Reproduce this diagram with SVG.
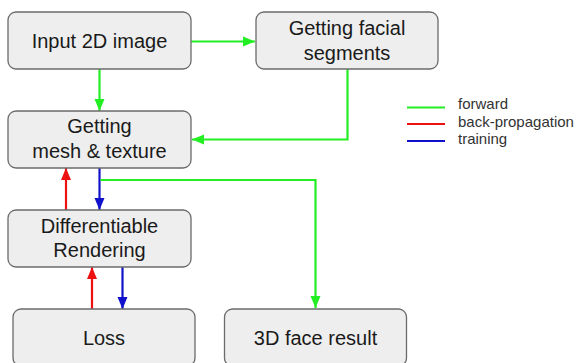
<svg xmlns="http://www.w3.org/2000/svg" width="580" height="363" viewBox="0 0 580 363">
<style>
.box{fill:#eeeeee;stroke:#6b6b6b;stroke-width:1.3}
.t{font-family:"Liberation Sans",Arial,sans-serif;font-size:20px;fill:#1a1a1a;text-anchor:middle}
.lg{font-family:"Liberation Sans",Arial,sans-serif;font-size:15px;fill:#333333}
.g{stroke:#22ee22;stroke-width:2.2;fill:none}
.r{stroke:#ee1111;stroke-width:2.2;fill:none}
.b{stroke:#1111cc;stroke-width:2.2;fill:none}
</style>
<defs>
<marker id="ag" markerUnits="userSpaceOnUse" markerWidth="12" markerHeight="12" viewBox="0 0 12 12" refX="12" refY="6" orient="auto"><path d="M0,1 L12,6 L0,11 Z" fill="#22ee22"/></marker>
<marker id="ar" markerUnits="userSpaceOnUse" markerWidth="12" markerHeight="12" viewBox="0 0 12 12" refX="12" refY="6" orient="auto"><path d="M0,1 L12,6 L0,11 Z" fill="#ee1111"/></marker>
<marker id="ab" markerUnits="userSpaceOnUse" markerWidth="12" markerHeight="12" viewBox="0 0 12 12" refX="12" refY="6" orient="auto"><path d="M0,1 L12,6 L0,11 Z" fill="#1111cc"/></marker>
</defs>
<rect width="580" height="363" fill="#ffffff"/>
<g id="connectors">
<path class="g" d="M191,41.5 H255" marker-end="url(#ag)"/>
<path class="g" d="M99.5,69 V111" marker-end="url(#ag)"/>
<path class="g" d="M347.5,69 V139.5 H192" marker-end="url(#ag)"/>
<path class="r" d="M66,210 V168" marker-end="url(#ar)"/>
<path class="b" d="M99.5,168 V210" marker-end="url(#ab)"/>
<path class="g" d="M100.5,180 H315.5 V308" marker-end="url(#ag)"/>
<path class="r" d="M92,309 V267" marker-end="url(#ar)"/>
<path class="b" d="M122.5,267 V309" marker-end="url(#ab)"/>
</g>
<g id="input">
<rect class="box" x="8" y="12" width="183" height="57" rx="8"/>
<text class="t" x="99.5" y="48">Input 2D image</text>
</g>
<g id="segments">
<rect class="box" x="256" y="12" width="182" height="57" rx="8"/>
<text class="t" x="347" y="35">Getting facial</text>
<text class="t" x="347" y="60">segments</text>
</g>
<g id="mesh">
<rect class="box" x="8" y="111" width="183" height="57" rx="8"/>
<text class="t" x="99.5" y="133">Getting</text>
<text class="t" x="99.5" y="158">mesh &amp; texture</text>
</g>
<g id="render">
<rect class="box" x="8" y="210" width="183" height="57" rx="8"/>
<text class="t" x="99.5" y="233">Differentiable</text>
<text class="t" x="99.5" y="257">Rendering</text>
</g>
<g id="loss">
<rect class="box" x="13" y="309" width="182" height="57" rx="8"/>
<text class="t" x="104" y="345">Loss</text>
</g>
<g id="result">
<rect class="box" x="224.5" y="309" width="182" height="57" rx="8"/>
<text class="t" x="315.5" y="345">3D face result</text>
</g>
<g id="legend">
<line class="g" x1="407" y1="107.5" x2="445" y2="107.5"/>
<line class="r" x1="407" y1="124" x2="445" y2="124"/>
<line class="b" x1="407" y1="141" x2="445" y2="141"/>
<text class="lg" x="458" y="109">forward</text>
<text class="lg" x="458" y="126.5">back-propagation</text>
<text class="lg" x="458" y="144">training</text>
</g>
</svg>
